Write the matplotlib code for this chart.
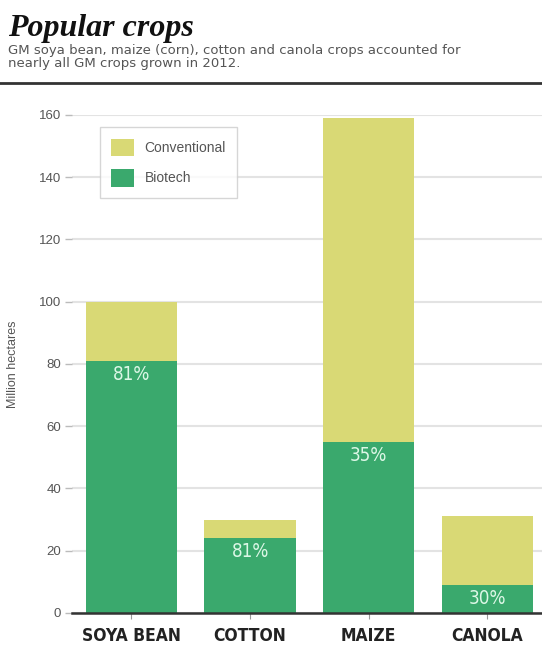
import matplotlib.pyplot as plt
import numpy as np

plt.rcParams['font.family'] = ['Liberation Sans', 'DejaVu Sans']

crops = ['SOYA BEAN', 'COTTON', 'MAIZE', 'CANOLA']
total = [100, 30, 159, 31]
biotech = [81, 24, 55, 9]
share = ['81%', '81%', '35%', '30%']
conventional = [t - b for t, b in zip(total, biotech)]

green = '#3aa96d'
yellow = '#d9d975'

fig = plt.figure(figsize=(5.42, 6.51), dpi=100)
ax = fig.add_axes([0.133, 0.0584, 0.867, 0.7650])

x = np.arange(len(crops))
ax.bar(x, biotech, width=0.77, color=green, label='Biotech', zorder=3)
ax.bar(x, conventional, width=0.77, bottom=biotech, color=yellow,
       label='Conventional', zorder=3)

# share of biotech, written inside the green part
for i in range(len(crops)):
    ax.text(x[i], biotech[i] - 1.2, share[i], ha='center', va='top',
            color='#dcf7e6', fontsize=13.5, family='DejaVu Sans',
            fontstretch='condensed')

ax.set_xlim(-0.5, 3.46)
ax.set_ylim(0, 160)
ax.set_yticks(np.arange(0, 161, 20))
ax.set_xticks(x)
ax.set_xticklabels(crops, fontsize=12.5, fontweight='bold',
                   family='DejaVu Sans', fontstretch='condensed', color='#222222')
ax.tick_params(axis='y', length=5, width=1, color='#bbbbbb', labelsize=9.5,
               labelcolor='#555555', pad=3)
ax.tick_params(axis='x', length=4, width=0.8, color='#999999', pad=6)
ax.grid(axis='y', color='#e3e3e3', linewidth=1.5, zorder=0)
for s in ['top', 'right', 'left']:
    ax.spines[s].set_visible(False)
ax.spines['bottom'].set_color('#333333')
ax.spines['bottom'].set_linewidth(1.8)
ax.spines['bottom'].set_zorder(4)
ax.set_ylabel('Million hectares', fontsize=9, color='#555555', labelpad=14)

h, l = ax.get_legend_handles_labels()
leg = ax.legend(h[::-1], l[::-1], loc='upper left', bbox_to_anchor=(0.06, 0.975),
                fontsize=10, frameon=True, fancybox=False, edgecolor='#cccccc',
                handlelength=1.6, handleheight=1.6, borderpad=0.8,
                labelspacing=0.9, handletextpad=0.8, borderaxespad=0)
leg.get_frame().set_linewidth(1)
for t in leg.get_texts():
    t.set_color('#555555')

# heading
fig.text(0.015, 0.945, 'Popular crops', fontsize=23, fontweight='bold',
         fontstyle='italic', family='Liberation Serif', color='#111111')
fig.text(0.015, 0.897, 'GM soya bean, maize (corn), cotton and canola crops accounted for\nnearly all GM crops grown in 2012.',
         fontsize=9.5, family='DejaVu Sans', color='#555555', linespacing=1.05)
fig.add_artist(plt.Line2D([0, 1], [0.872, 0.872], color='#333333', linewidth=2))

plt.savefig('out.png')
